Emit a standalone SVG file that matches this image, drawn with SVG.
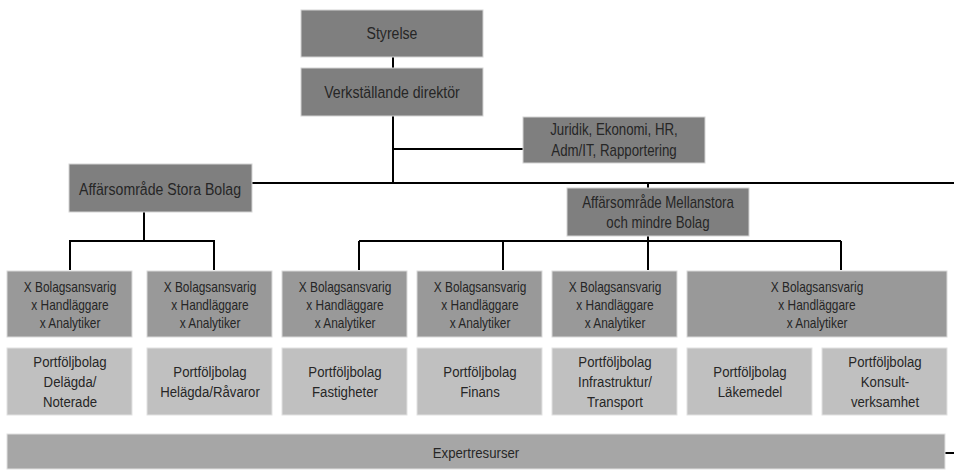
<svg xmlns="http://www.w3.org/2000/svg" width="954" height="470" viewBox="0 0 954 470">
<style>
text{font-family:"Liberation Sans",Arial,sans-serif;fill:#262626;text-anchor:middle;dominant-baseline:central;transform-box:fill-box;transform-origin:center;transform:scaleX(.83)}
.d{fill:#7f7f7f;stroke:#d4d4d4;stroke-width:1}
.m{fill:#999999;stroke:#dadada;stroke-width:1}
.l{fill:#c0c0c0;stroke:#e2e2e2;stroke-width:1}
.e{fill:#a6a6a6;stroke:#e0e0e0;stroke-width:1}
.t17{font-size:17px}
.t16{font-size:16px}
.t15{font-size:15px;transform:scaleX(.88)}
.t14{font-size:14px;transform:scaleX(.85)}
.c{fill:none;stroke:#000;stroke-width:2}
</style>
<g id="connectors">
<path class="c" d="M393 57V68M393 116V183M393 149H523M252 183H954M648 183V188M144 212V241H70V270M144 241H214V270M648 236V241M359 241H841M359 241V270M503 241V270M648 241V270M841 241V270M945 453H954"/>
</g>
<g id="styrelse"><rect class="d" x="301" y="10" width="182" height="47"/><text class="t17" x="392" y="33">Styrelse</text></g>
<g id="vd"><rect class="d" x="301" y="68" width="182" height="48"/><text class="t17" x="392" y="92">Verkställande direktör</text></g>
<g id="stab"><rect class="d" x="523" y="117" width="182" height="46"/><text class="t16" x="614" y="130">Juridik, Ekonomi, HR,</text><text class="t16" x="614" y="151">Adm/IT, Rapportering</text></g>
<g id="stora"><rect class="d" x="69" y="164" width="183" height="48"/><text class="t17" x="160" y="189">Affärsområde Stora Bolag</text></g>
<g id="mellan"><rect class="d" x="567" y="188" width="182" height="48"/><text class="t16" x="658" y="203">Affärsområde Mellanstora</text><text class="t16" x="658" y="223">och mindre Bolag</text></g>
<g id="team1"><rect class="m" x="7" y="271" width="125" height="66"/><text class="t14" x="70" y="287">X Bolagsansvarig</text><text class="t14" x="70" y="305">x Handläggare</text><text class="t14" x="70" y="323">x Analytiker</text></g>
<g id="team2"><rect class="m" x="147" y="271" width="125" height="66"/><text class="t14" x="210" y="287">X Bolagsansvarig</text><text class="t14" x="210" y="305">x Handläggare</text><text class="t14" x="210" y="323">x Analytiker</text></g>
<g id="team3"><rect class="m" x="282" y="271" width="125" height="66"/><text class="t14" x="345" y="287">X Bolagsansvarig</text><text class="t14" x="345" y="305">x Handläggare</text><text class="t14" x="345" y="323">x Analytiker</text></g>
<g id="team4"><rect class="m" x="417" y="271" width="125" height="66"/><text class="t14" x="480" y="287">X Bolagsansvarig</text><text class="t14" x="480" y="305">x Handläggare</text><text class="t14" x="480" y="323">x Analytiker</text></g>
<g id="team5"><rect class="m" x="552" y="271" width="125" height="66"/><text class="t14" x="615" y="287">X Bolagsansvarig</text><text class="t14" x="615" y="305">x Handläggare</text><text class="t14" x="615" y="323">x Analytiker</text></g>
<g id="team6"><rect class="m" x="687" y="271" width="260" height="66"/><text class="t14" x="817" y="287">X Bolagsansvarig</text><text class="t14" x="817" y="305">x Handläggare</text><text class="t14" x="817" y="323">x Analytiker</text></g>
<g id="pf1"><rect class="l" x="7" y="348" width="125" height="67"/><text class="t15" x="70" y="362">Portföljbolag</text><text class="t15" x="70" y="382">Delägda/</text><text class="t15" x="70" y="402">Noterade</text></g>
<g id="pf2"><rect class="l" x="147" y="348" width="125" height="67"/><text class="t15" x="210" y="372">Portföljbolag</text><text class="t15" x="210" y="392">Helägda/Råvaror</text></g>
<g id="pf3"><rect class="l" x="282" y="348" width="125" height="67"/><text class="t15" x="345" y="372">Portföljbolag</text><text class="t15" x="345" y="392">Fastigheter</text></g>
<g id="pf4"><rect class="l" x="417" y="348" width="125" height="67"/><text class="t15" x="480" y="372">Portföljbolag</text><text class="t15" x="480" y="392">Finans</text></g>
<g id="pf5"><rect class="l" x="552" y="348" width="125" height="67"/><text class="t15" x="615" y="362">Portföljbolag</text><text class="t15" x="615" y="382">Infrastruktur/</text><text class="t15" x="615" y="402">Transport</text></g>
<g id="pf6"><rect class="l" x="687" y="348" width="125" height="67"/><text class="t15" x="750" y="372">Portföljbolag</text><text class="t15" x="750" y="392">Läkemedel</text></g>
<g id="pf7"><rect class="l" x="822" y="348" width="125" height="67"/><text class="t15" x="885" y="362">Portföljbolag</text><text class="t15" x="885" y="382">Konsult-</text><text class="t15" x="885" y="402">verksamhet</text></g>
<g id="expert"><rect class="e" x="7" y="434" width="938" height="35"/><text class="t15" x="476" y="453">Expertresurser</text></g>
</svg>
